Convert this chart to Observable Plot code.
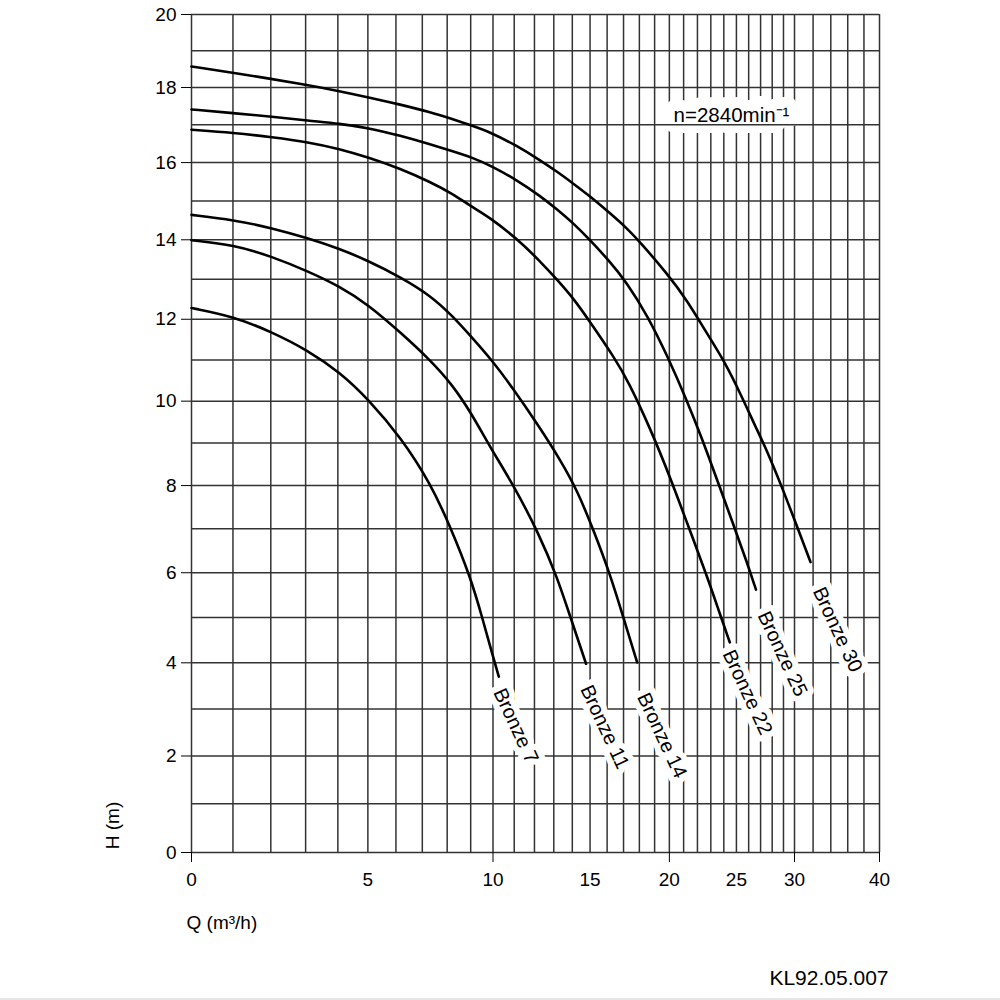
<!DOCTYPE html>
<html>
<head>
<meta charset="utf-8">
<script src="https://cdn.jsdelivr.net/npm/d3@7"></script>
<script src="https://cdn.jsdelivr.net/npm/@observablehq/plot@0.6"></script>
<style>
  body { margin: 0; background: #fff; }
  #chart { width: 1000px; height: 998px; border-bottom: 2px solid #e6e6e6; }
</style>
</head>
<body>
<div id="chart"></div>
<script>
// ---- Data ----
const bronze7Q  = [0, 1.02, 2.04, 3.07, 4.06, 5.00, 6.21, 7.32, 8.14, 8.99, 9.51, 9.96, 10.27];
const bronze7H  = [12.28, 12.07, 11.68, 11.23, 10.70, 10.06, 9.11, 8.05, 7.04, 5.90, 5.00, 4.20, 3.70];

const bronze11Q = [0, 1.02, 2.04, 3.07, 4.06, 5.00, 6.21, 7.32, 8.21, 9.04, 9.89, 10.98, 12.22, 13.18, 13.90, 14.77];
const bronze11H = [13.99, 13.87, 13.57, 13.20, 12.82, 12.37, 11.65, 10.99, 10.40, 9.70, 8.88, 8.00, 6.89, 5.90, 5.00, 3.98];

const bronze14Q = [0, 1.02, 2.04, 3.07, 4.06, 5.00, 6.21, 7.32, 8.21, 9.04, 9.89, 10.90, 12.31, 13.36, 14.27, 15.21, 16.20, 16.92, 17.86];
const bronze14H = [14.64, 14.51, 14.30, 14.04, 13.77, 13.47, 13.04, 12.59, 12.09, 11.56, 11.03, 10.34, 9.34, 8.59, 7.89, 6.96, 5.94, 5.08, 4.01];

const bronze22Q = [0, 1.01, 2.04, 3.08, 4.06, 5.00, 6.17, 7.32, 8.21, 9.04, 9.89, 11.14, 12.26, 13.21, 14.08, 15.02, 16.40, 17.31, 18.72, 20.08, 21.25, 22.72, 23.74, 24.47];
const bronze22H = [16.87, 16.79, 16.67, 16.54, 16.36, 16.14, 15.84, 15.49, 15.19, 14.85, 14.56, 14.02, 13.47, 12.97, 12.51, 11.92, 11.08, 10.47, 9.34, 8.17, 7.13, 5.92, 5.04, 4.45];

const bronze25Q = [0, 1.01, 2.04, 3.08, 4.06, 5.00, 6.17, 7.32, 8.21, 9.04, 9.89, 11.14, 12.26, 13.21, 14.08, 14.83, 16.10, 17.23, 18.51, 19.85, 21.25, 22.34, 23.22, 24.79, 25.88, 26.61];
const bronze25H = [17.41, 17.31, 17.22, 17.11, 17.03, 16.92, 16.71, 16.48, 16.30, 16.14, 15.92, 15.54, 15.14, 14.77, 14.41, 14.07, 13.48, 12.90, 12.10, 11.11, 10.00, 9.10, 8.35, 7.07, 6.22, 5.62];

const bronze30Q = [0, 1.01, 3.08, 4.06, 5.00, 6.17, 7.32, 8.18, 9.04, 9.89, 11.14, 12.26, 13.21, 14.08, 14.83, 16.10, 17.23, 18.07, 19.85, 21.25, 22.72, 24.00, 25.33, 26.71, 27.27, 28.88, 30.29, 31.72];
const bronze30H = [18.57, 18.40, 18.07, 17.90, 17.74, 17.54, 17.34, 17.16, 16.98, 16.80, 16.44, 16.07, 15.75, 15.44, 15.18, 14.71, 14.29, 13.93, 13.14, 12.47, 11.64, 10.99, 10.18, 9.30, 8.99, 7.96, 7.04, 6.24];

const pumpNames = ["Bronze 7", "Bronze 11", "Bronze 14", "Bronze 22", "Bronze 25", "Bronze 30"];
const labelQ = [10.27, 14.75, 18.21, 24.34, 27.22, 32.57];
const labelH = [3.42, 3.49, 3.32, 4.26, 5.11, 5.65];

const xGrid = [0,1,2,3,4,5,6,7,8,9,10,11,12,13,14,15,16,17,18,19,20,21,22,23,24,25,26,27,28,29,30,32,34,36,38,40];
const yGrid = [0,1,2,3,4,5,6,7,8,9,10,11,12,13,14,15,16,17,18,19,20];
const xTickLabels = [0, 5, 10, 15, 20, 25, 30, 40];
const xMajorTicks = [0, 10, 20, 30, 40];
const yTickLabels = [0, 2, 4, 6, 8, 10, 12, 14, 16, 18, 20];

const speedLabel = "n=2840min\u207B\u00B9";
const xLabel = "Q (m\u00B3/h)";
const yLabel = "H (m)";
const docCode = "KL92.05.007";

// ---- Build tables ----
const seriesQ = [bronze7Q, bronze11Q, bronze14Q, bronze22Q, bronze25Q, bronze30Q];
const seriesH = [bronze7H, bronze11H, bronze14H, bronze22H, bronze25H, bronze30H];
const rows = [];
pumpNames.forEach((name, i) => {
  seriesQ[i].forEach((q, j) => rows.push({pump: name, Q: q, H: seriesH[i][j]}));
});
const labels = pumpNames.map((name, i) => ({name, Q: labelQ[i], H: labelH[i]}));

const gridStyle = {stroke: "#333", strokeOpacity: 1, strokeWidth: 1.5};
const font = "'Liberation Sans', Arial, Helvetica, sans-serif";

const chart = Plot.plot({
  width: 1000,
  height: 998,
  marginLeft: 191,
  marginRight: 121,
  marginTop: 14,
  marginBottom: 146,
  style: {fontFamily: font, fontSize: "19px", color: "#000", background: "#fff"},
  x: {type: "symlog", constant: 10, domain: [0, 30, 40], range: [191, 794, 879]},
  y: {type: "symlog", constant: 55, domain: [0, 20]},
  marks: [
    Plot.gridX(xGrid, gridStyle),
    Plot.text([speedLabel], {text: d => d, frameAnchor: "top-right", dx: -148, dy: 93, textAnchor: "middle", fontSize: 20.5, fill: "black", stroke: "white", strokeWidth: 22}),
    Plot.gridY(yGrid, gridStyle),
    Plot.line(rows, {x: "Q", y: "H", z: "pump", stroke: "black", strokeWidth: 2.6, curve: "basis"}),
    Plot.text(labels, {x: "Q", y: "H", text: "name", rotate: 65, textAnchor: "start", lineAnchor: "middle", fontSize: 20, fill: "black", stroke: "white", strokeWidth: 12}),
    Plot.axisY(yTickLabels, {tickSize: 10, tickPadding: 5, fontSize: 19, label: null}),
    Plot.axisX(xMajorTicks, {tickSize: 10, tickFormat: () => "", label: null}),
    Plot.axisX(xTickLabels, {tickSize: 0, tickPadding: 20, fontSize: 19, label: null}),
    Plot.text([xLabel], {text: d => d, frameAnchor: "bottom-left", dx: -5, dy: 76, textAnchor: "start", fontSize: 19}),
    Plot.text([yLabel], {text: d => d, frameAnchor: "bottom-left", dx: -73, dy: -27, rotate: -90, textAnchor: "middle", fontSize: 19}),
    Plot.text([docCode], {text: d => d, frameAnchor: "bottom-right", dx: 9, dy: 132, textAnchor: "end", fontSize: 21})
  ]
});
document.getElementById("chart").appendChild(chart);
</script>
</body>
</html>
